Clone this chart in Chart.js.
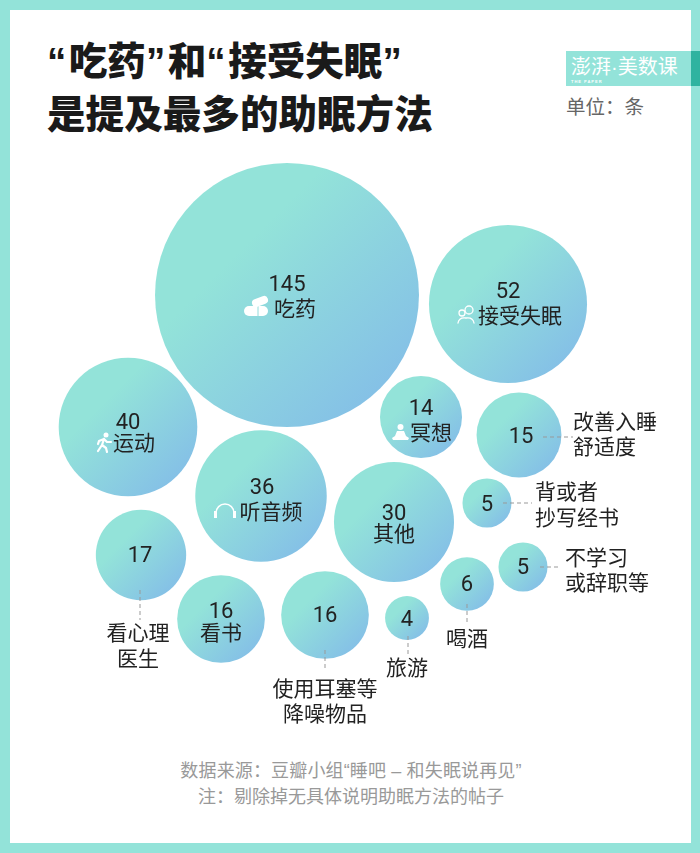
<!DOCTYPE html>
<html lang="zh-CN">
<head>
<meta charset="utf-8">
<script src="https://cdn.jsdelivr.net/npm/chart.js@4"></script>
<style>
html, body { margin: 0; padding: 0; }
body { width: 700px; height: 853px; position: relative; overflow: hidden; background: #93e3d9; font-family: "Liberation Sans", "Noto Sans CJK SC", sans-serif; }
#sheet { position: absolute; left: 10px; top: 10px; width: 681px; height: 833px; background: #fff; }
#chart { position: absolute; left: 0; top: 0; }
.txt { position: absolute; white-space: nowrap; }
#title { left: 47px; top: 35px; font-size: 38.6px; font-weight: 900; line-height: 53px; color: #1a1a1a; }
#title i { font-style: normal; letter-spacing: 2.5px; }
#unit { left: 566px; top: 94px; font-size: 19.5px; line-height: 26px; color: #666; }
#source { left: 0; width: 702px; top: 758px; text-align: center; font-size: 18px; line-height: 26px; color: #999; }
#source span { letter-spacing: 0.15px; }
#logo { position: absolute; left: 566px; top: 51px; width: 125px; height: 35px; background: #93e3d9; color: #fff; }
#logoEdge { position: absolute; left: 691px; top: 51px; width: 9px; height: 35px; background: #2fb3a0; }
#logoName { position: absolute; left: 5px; top: 1px; font-size: 20px; line-height: 30px; white-space: nowrap; }
#logoSub { position: absolute; left: 5px; top: 28px; font: bold 4px "Liberation Sans"; letter-spacing: 1px; white-space: nowrap; }
</style>
</head>
<body>
<div id="sheet"></div>
<div class="txt" id="title"><i>“</i>吃药<i>”</i>和<i>“</i>接受失眠<i>”</i><br>是提及最多的助眠方法</div>
<div id="logo"><span id="logoName">澎湃·美数课</span><span id="logoSub">THE PAPER</span></div>
<div id="logoEdge"></div>
<div class="txt" id="unit">单位：条</div>
<div class="txt" id="source"><span>数据来源：豆瓣小组“睡吧 – 和失眠说再见”</span><br>注：剔除掉无具体说明助眠方法的帖子</div>
<canvas id="chart" width="700" height="853"></canvas>
<script>
const categories = ['吃药', '接受失眠', '运动', '听音频', '冥想', '改善入睡舒适度', '其他', '背或者抄写经书', '不学习或辞职等', '喝酒', '看心理医生', '看书', '使用耳塞等降噪物品', '旅游'];
const counts = [145, 52, 40, 36, 14, 15, 30, 5, 5, 6, 17, 16, 16, 4];
const packX = [287, 508, 128, 261, 421, 519, 394, 487, 523, 467, 141, 221, 325, 407];
const packY = [295, 304, 427, 496, 417, 435, 522, 503, 567, 584, 555, 619, 615, 618];

// radius goes with sqrt(count)
const radiusPerRoot = 10.96;
const radiusOf = v => Math.sqrt(v) * radiusPerRoot;

// where each text goes, as [x, y] from the bubble centre; lines of the name split by |
const textSpots = [
    { num: [0, -10], name: '吃药', at: [[8, 13]] },
    { num: [0, -12], name: '接受失眠', at: [[12, 11]] },
    { num: [0, -4], name: '运动', at: [[6, 15]] },
    { num: [1, -8], name: '听音频', at: [[10, 15]] },
    { num: [0, -8], name: '冥想', at: [[10, 15]] },
    { num: [2, 2], name: '改善入睡|舒适度', align: 'left', at: [[54, -14], [54, 11]], dash: [[24, 2], [54, 2]] },
    { num: [0, -8], name: '其他', at: [[0, 11]] },
    { num: [0, 2], name: '背或者|抄写经书', align: 'left', at: [[48, -12], [48, 14]], dash: [[16, 0], [45, 0]] },
    { num: [0, 1], name: '不学习|或辞职等', align: 'left', at: [[42, -10], [42, 15]], dash: [[17, 0], [37, 0]] },
    { num: [0, 1], name: '喝酒', at: [[0, 54]], dash: [[0, 20], [0, 39]] },
    { num: [-1, 1], name: '看心理|医生', at: [[-3, 77], [-3, 103]], dash: [[-1, 35], [-1, 65]] },
    { num: [0, -7], name: '看书', at: [[0, 13]] },
    { num: [0, 1], name: '使用耳塞等|降噪物品', at: [[0, 73], [0, 98]], dash: [[0, 35], [0, 53]] },
    { num: [0, 2], name: '旅游', at: [[0, 49]], dash: [[1, 18], [1, 37]] }
];

function drawIcon(ctx, i, x, y) {
    ctx.save();
    ctx.translate(x, y);
    ctx.fillStyle = '#fff';
    ctx.strokeStyle = '#fff';
    ctx.lineCap = 'round';
    ctx.lineJoin = 'round';
    if (i === 0) { // pills
        ctx.beginPath();
        ctx.roundRect(-43, 11, 24, 10, 5);
        ctx.fill();
        ctx.strokeStyle = '#93dcdc';
        ctx.lineWidth = 1;
        ctx.beginPath(); ctx.moveTo(-29, 11); ctx.lineTo(-29, 21); ctx.stroke();
        ctx.strokeStyle = '#fff';
        ctx.lineWidth = 8;
        ctx.beginPath(); ctx.moveTo(-31, 8); ctx.lineTo(-23, 5); ctx.stroke();
    } else if (i === 1) { // person asleep
        ctx.lineWidth = 1.3;
        ctx.beginPath(); ctx.arc(-39, 6, 4, 0, Math.PI * 2); ctx.stroke();
        ctx.beginPath(); ctx.arc(-46, 9, 3, 0, Math.PI * 2); ctx.stroke();
        ctx.beginPath();
        ctx.moveTo(-50, 19); ctx.quadraticCurveTo(-49, 13, -42, 14); ctx.quadraticCurveTo(-35, 13, -34, 19);
        ctx.stroke();
    } else if (i === 2) { // runner
        ctx.lineWidth = 2.2;
        ctx.beginPath(); ctx.arc(-22, 8, 2.5, 0, Math.PI * 2); ctx.fill();
        ctx.beginPath();
        ctx.moveTo(-24, 12); ctx.lineTo(-26, 18); ctx.lineTo(-22, 21); ctx.lineTo(-21, 25);
        ctx.moveTo(-26, 18); ctx.lineTo(-30, 24);
        ctx.moveTo(-24, 12); ctx.lineTo(-29, 14); ctx.lineTo(-30, 17);
        ctx.moveTo(-24, 12); ctx.lineTo(-21, 15); ctx.lineTo(-17, 15);
        ctx.stroke();
    } else if (i === 3) { // headphones
        ctx.lineWidth = 1.5;
        ctx.beginPath(); ctx.arc(-36, 17, 9, Math.PI, 0); ctx.stroke();
        ctx.fillRect(-47, 15, 3, 7);
        ctx.fillRect(-28, 15, 3, 7);
    } else if (i === 4) { // sitting figure
        ctx.beginPath(); ctx.arc(-20.5, 10, 3, 0, Math.PI * 2); ctx.fill();
        ctx.beginPath();
        ctx.moveTo(-24, 14); ctx.lineTo(-17, 14); ctx.lineTo(-15, 19); ctx.lineTo(-12, 21);
        ctx.lineTo(-13, 23); ctx.lineTo(-28, 23); ctx.lineTo(-29, 21); ctx.lineTo(-26, 19);
        ctx.closePath();
        ctx.fill();
    }
    ctx.restore();
}

const bubbleLabels = {
    id: 'bubbleLabels',
    afterDatasetsDraw(chart) {
        const { ctx, scales } = chart;
        ctx.save();
        ctx.textBaseline = 'middle';
        counts.forEach((v, i) => {
            const cx = scales.x.getPixelForValue(packX[i]);
            const cy = scales.y.getPixelForValue(packY[i]);
            const spot = textSpots[i];
            if (spot.dash) {
                ctx.strokeStyle = '#999';
                ctx.lineWidth = 1;
                ctx.setLineDash([4, 3]);
                ctx.beginPath();
                ctx.moveTo(cx + spot.dash[0][0], cy + spot.dash[0][1]);
                ctx.lineTo(cx + spot.dash[1][0], cy + spot.dash[1][1]);
                ctx.stroke();
                ctx.setLineDash([]);
            }
            drawIcon(ctx, i, cx, cy);
            ctx.fillStyle = '#222';
            ctx.textAlign = 'center';
            ctx.font = '22px Roboto';
            ctx.fillText(String(v), cx + spot.num[0], cy + spot.num[1]);
            ctx.textAlign = spot.align || 'center';
            ctx.font = '21px "Noto Sans CJK SC"';
            spot.name.split('|').forEach((line, n) => {
                ctx.fillText(line, cx + spot.at[n][0], cy + spot.at[n][1]);
            });
        });
        ctx.restore();
    }
};

const ctx = document.getElementById('chart').getContext('2d');

new Chart(ctx, {
    type: 'bubble',
    data: {
        labels: categories,
        datasets: [{
            label: '条',
            data: counts.map((v, i) => ({ x: packX[i], y: packY[i], r: radiusOf(v) })),
            borderWidth: 0,
            backgroundColor: function(c) {
                const p = c.chart.scales;
                const i = c.dataIndex;
                if (!p.x || i === undefined) return '#8fd6dd';
                const cx = p.x.getPixelForValue(packX[i]);
                const cy = p.y.getPixelForValue(packY[i]);
                if (!isFinite(cx) || !isFinite(cy)) return '#8fd6dd';
                const r = radiusOf(counts[i]);
                const g = c.chart.ctx.createLinearGradient(cx - r * 0.35, cy - r * 0.35, cx + r * 0.7, cy + r * 0.7);
                g.addColorStop(0, '#93e3d9');
                g.addColorStop(1, '#85c1e6');
                return g;
            }
        }]
    },
    options: {
        responsive: false,
        animation: false,
        layout: { padding: 0, autoPadding: false },
        plugins: { legend: { display: false }, tooltip: { enabled: false } },
        scales: {
            x: { type: 'linear', display: false, min: 0, max: 700 },
            y: { type: 'linear', display: false, min: 0, max: 853, reverse: true }
        }
    },
    plugins: [bubbleLabels]
});
</script>
</body>
</html>
